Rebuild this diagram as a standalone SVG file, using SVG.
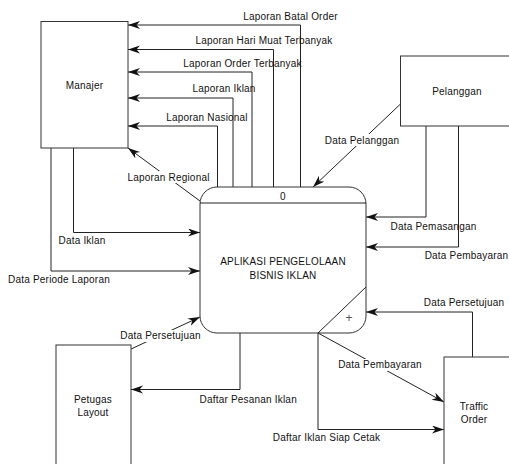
<svg xmlns="http://www.w3.org/2000/svg" width="509" height="464" viewBox="0 0 509 464">
<style>
.box{fill:#fff;stroke:#333;stroke-width:1}
.ln{fill:none;stroke:#222;stroke-width:1;marker-end:url(#ah)}
.pl{fill:none;stroke:#222;stroke-width:1}
text{font-family:"Liberation Sans",Arial,sans-serif;font-size:10px;fill:#111;letter-spacing:0.2px}
.c{text-anchor:middle}
.bg{fill:#fff}
</style>
<defs>
<marker id="ah" markerUnits="userSpaceOnUse" markerWidth="14" markerHeight="10" refX="12" refY="4" orient="auto">
<path d="M0,0 L12,4 L0,8 L3.5,4 z" fill="#111"/>
</marker>
</defs>
<rect width="509" height="464" fill="#fff"/>
<g id="connectors">
<polyline class="ln" points="300.5,187 300.5,25 128,25"/>
<polyline class="ln" points="273.5,187 273.5,49.5 128,49.5"/>
<polyline class="ln" points="252,187 252,72 128,72"/>
<polyline class="ln" points="233,187 233,98 128,98"/>
<polyline class="ln" points="217.5,187 217.5,126 128,126"/>
<line class="ln" x1="200" y1="201" x2="128" y2="148"/>
<polyline class="ln" points="73.5,148 73.5,232.5 200,232.5"/>
<polyline class="ln" points="51,148 51,271 200,271"/>
<line class="ln" x1="400.5" y1="104" x2="313" y2="187"/>
<polyline class="ln" points="426,126 426,217 366,217"/>
<polyline class="ln" points="458.5,126 458.5,247 366,247"/>
<line class="ln" x1="131" y1="349" x2="200" y2="317"/>
<polyline class="ln" points="240,333 240,389.5 131,389.5"/>
<polyline class="ln" points="472.5,357 472.5,312 366,312"/>
<line class="ln" x1="318" y1="333" x2="444" y2="402"/>
<polyline class="ln" points="318,333 318,429.5 444,429.5"/>
</g>
<g id="labels">
<text class="c" x="290.5" y="19.5">Laporan Batal Order</text>
<text class="c" x="264" y="44">Laporan Hari Muat Terbanyak</text>
<text class="c" x="242.5" y="66.5">Laporan Order Terbanyak</text>
<text class="c" x="224" y="91.5">Laporan Iklan</text>
<text class="c" x="207" y="120.5">Laporan Nasional</text>
<rect class="bg" x="126" y="171" width="86" height="12"/>
<text class="c" x="168.5" y="180.5">Laporan Regional</text>
<text class="c" x="82" y="244">Data Iklan</text>
<text class="c" x="59" y="283">Data Periode Laporan</text>
<rect class="bg" x="321" y="134" width="82" height="12"/>
<text class="c" x="362" y="143.5">Data Pelanggan</text>
<text class="c" x="433.5" y="229.5">Data Pemasangan</text>
<text class="c" x="466.5" y="259">Data Pembayaran</text>
<rect class="bg" x="119" y="330" width="83" height="12"/>
<text class="c" x="160.5" y="339">Data Persetujuan</text>
<text x="199.5" y="402.5">Daftar Pesanan Iklan</text>
<text class="c" x="464" y="306">Data Persetujuan</text>
<rect class="bg" x="337" y="359" width="86" height="12"/>
<text class="c" x="380" y="368">Data Pembayaran</text>
<text class="c" x="326.5" y="441">Daftar Iklan Siap Cetak</text>
</g>
<g id="manajer">
<rect class="box" x="41" y="21.5" width="87" height="126.5"/>
<text class="c" x="84.5" y="89">Manajer</text>
</g>
<g id="pelanggan">
<rect class="box" x="400.5" y="56" width="115" height="70"/>
<text class="c" x="457" y="94.5">Pelanggan</text>
</g>
<g id="petugas">
<rect class="box" x="56" y="345" width="75" height="130"/>
<text class="c" x="93" y="402.5">Petugas</text>
<text class="c" x="93" y="416">Layout</text>
</g>
<g id="traffic">
<rect class="box" x="444" y="357" width="80" height="120"/>
<text class="c" x="474" y="409.5">Traffic</text>
<text class="c" x="474" y="423">Order</text>
</g>
<g id="process">
<path class="box" d="M217,187 H349 A17,17 0 0 1 366,204 V316 A17,17 0 0 1 349,333 H217 A17,17 0 0 1 200,316 V204 A17,17 0 0 1 217,187 Z"/>
<line class="pl" x1="200" y1="203" x2="366" y2="203"/>
<line class="pl" x1="366" y1="287" x2="318" y2="333"/>
<text class="c" x="283" y="199.5">0</text>
<text class="c" x="283" y="264.5">APLIKASI PENGELOLAAN</text>
<text class="c" x="283" y="279">BISNIS IKLAN</text>
<text class="c" x="349" y="322" style="font-size:12px;fill:#555">+</text>
</g>
</svg>
